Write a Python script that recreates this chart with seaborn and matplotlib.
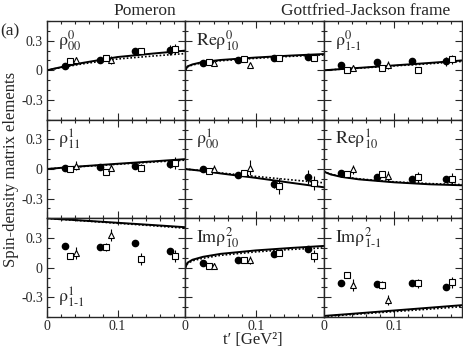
import numpy as np
import matplotlib
matplotlib.use("Agg")
import matplotlib.pyplot as plt
from matplotlib.ticker import MultipleLocator, FuncFormatter
import seaborn as sns

# panel labels, row by row
labels = [r"$\mathrm{\rho^{0}_{00}}$", r"$\mathrm{Re\rho^{0}_{10}}$", r"$\mathrm{\rho^{0}_{1\text{-}1}}$",
          r"$\mathrm{\rho^{1}_{11}}$", r"$\mathrm{\rho^{1}_{00}}$", r"$\mathrm{Re\rho^{1}_{10}}$",
          r"$\mathrm{\rho^{1}_{1\text{-}1}}$", r"$\mathrm{Im\rho^{2}_{10}}$", r"$\mathrm{Im\rho^{2}_{1\text{-}1}}$"]

# t' of the data points
t_circle = [0.025, 0.075, 0.125, 0.174]
t_square = [0.033, 0.083, 0.133, 0.182]
t_triangle = [0.041, 0.091]

# filled circles
circle_val = [[0.04, 0.105, 0.195, 0.21], [0.07, 0.105, 0.13, 0.135], [0.05, 0.08, 0.09, 0.09],
              [0.015, 0.02, 0.03, 0.05], [-0.005, -0.06, -0.15, -0.085], [-0.04, -0.08, -0.1, -0.1],
              [0.215, 0.205, 0.25, 0.165], [0.05, 0.08, 0.135, 0.19], [-0.155, -0.17, -0.155, -0.195]]
circle_err = [[0.02, 0.02, 0.03, 0.05], [0.015, 0.02, 0.02, 0.03], [0.02, 0.02, 0.02, 0.05],
              [0.015, 0.02, 0.03, 0.04], [0.015, 0.025, 0.04, 0.07], [0.015, 0.02, 0.025, 0.03],
              [0.02, 0.03, 0.03, 0.03], [0.015, 0.02, 0.02, 0.03], [0.02, 0.03, 0.03, 0.03]]

# open squares
square_val = [[0.09, 0.12, 0.2, 0.22], [0.08, 0.115, 0.13, 0.12], [0.0, 0.025, 0.0, 0.11],
              [-0.005, -0.035, 0.015, 0.06], [-0.02, -0.04, -0.175, -0.145], [-0.05, -0.05, -0.08, -0.105],
              [0.12, 0.205, 0.085, 0.12], [0.02, 0.075, 0.15, 0.12], [-0.07, -0.18, -0.16, -0.15]]
square_err = [[0.02, 0.02, 0.03, 0.05], [0.015, 0.02, 0.015, 0.02], [0.015, 0.02, 0.02, 0.05],
              [0.02, 0.03, 0.04, 0.06], [0.02, 0.03, 0.08, 0.07], [0.02, 0.03, 0.05, 0.06],
              [0.03, 0.04, 0.06, 0.06], [0.015, 0.02, 0.02, 0.06], [0.02, 0.04, 0.05, 0.06]]

# open triangles
triangle_val = [[0.1, 0.105], [0.07, 0.055], [0.02, 0.055],
                [0.035, 0.015], [0.005, 0.015], [-0.005, -0.07],
                [0.15, 0.33], [0.02, 0.08], [-0.175, -0.325]]
triangle_err = [[0.04, 0.04], [0.015, 0.02], [0.03, 0.04],
                [0.05, 0.04], [0.04, 0.08], [0.05, 0.05],
                [0.06, 0.06], [0.03, 0.04], [0.06, 0.05]]

# model curves
curve_t = [0.0, 0.003, 0.01, 0.025, 0.05, 0.1, 0.15, 0.196]
solid_curve = [[0.0, 0.005, 0.017, 0.04, 0.075, 0.135, 0.17, 0.2],
               [0.0, 0.04, 0.06, 0.085, 0.105, 0.13, 0.15, 0.165],
               [0.0, 0.002, 0.005, 0.013, 0.025, 0.05, 0.075, 0.1],
               [0.0, 0.002, 0.006, 0.015, 0.028, 0.053, 0.077, 0.1],
               [0.0, -0.003, -0.008, -0.02, -0.045, -0.09, -0.14, -0.185],
               [-0.02, -0.035, -0.055, -0.08, -0.105, -0.135, -0.155, -0.165],
               [0.5, 0.499, 0.495, 0.489, 0.478, 0.455, 0.432, 0.41],
               [0.0, 0.05, 0.08, 0.11, 0.14, 0.175, 0.2, 0.22],
               [-0.49, -0.488, -0.484, -0.476, -0.462, -0.434, -0.406, -0.38]]
dotted_curve = [[0.0, 0.005, 0.015, 0.035, 0.065, 0.115, 0.145, 0.17],
                [0.0, 0.035, 0.054, 0.077, 0.097, 0.122, 0.142, 0.156],
                [0.0, 0.002, 0.005, 0.012, 0.022, 0.045, 0.067, 0.09],
                [0.0, 0.002, 0.005, 0.013, 0.025, 0.048, 0.07, 0.09],
                [0.0, -0.003, -0.007, -0.018, -0.04, -0.075, -0.11, -0.14],
                [-0.02, -0.033, -0.052, -0.077, -0.1, -0.13, -0.148, -0.158],
                [0.5, 0.498, 0.494, 0.487, 0.475, 0.45, 0.425, 0.4],
                [0.0, 0.04, 0.07, 0.095, 0.125, 0.16, 0.185, 0.2],
                [-0.495, -0.493, -0.49, -0.483, -0.47, -0.445, -0.42, -0.395]]

sns.set_style("ticks")
plt.rcParams["font.family"] = ["Liberation Serif", "DejaVu Serif"]
plt.rcParams["mathtext.fontset"] = "stix"
plt.rcParams["axes.unicode_minus"] = False

fig, axes = plt.subplots(3, 3, figsize=(4.63, 3.49), dpi=100, sharex=True, sharey=True)
fig.subplots_adjust(left=47 / 463, right=462 / 463, top=1 - 21 / 349, bottom=1 - 317 / 349,
                    wspace=0, hspace=0)

fmt = FuncFormatter(lambda v, p: "0" if abs(v) < 1e-9 else f"{v:g}")

for i, ax in enumerate(axes.flat):
    sns.lineplot(x=curve_t, y=solid_curve[i], ax=ax, color="k", lw=1.4, zorder=2)
    sns.lineplot(x=curve_t, y=dotted_curve[i], ax=ax, color="k", lw=1.2, ls=(0, (1, 1.2)), zorder=2)

    ax.errorbar(t_circle, circle_val[i], yerr=circle_err[i], fmt="o", ms=4.5, color="k",
                mfc="k", elinewidth=0.8, capsize=0, zorder=4)
    ax.errorbar(t_square, square_val[i], yerr=square_err[i], fmt="s", ms=4, color="k",
                mfc="white", mew=0.8, elinewidth=0.8, capsize=0, zorder=4)
    ax.errorbar(t_triangle, triangle_val[i], yerr=triangle_err[i], fmt="^", ms=4.5, color="k",
                mfc="white", mew=0.8, elinewidth=0.8, capsize=0, zorder=4)

    if i == 6:
        ax.text(0.08, 0.08, labels[i], transform=ax.transAxes, fontsize=13, va="bottom")
    else:
        ax.text(0.08, 0.93, labels[i], transform=ax.transAxes, fontsize=13, va="top")

    ax.set_xlim(0, 0.196)
    ax.set_ylim(-0.5, 0.5)
    ax.xaxis.set_major_locator(MultipleLocator(0.1))
    ax.xaxis.set_minor_locator(MultipleLocator(0.02))
    ax.yaxis.set_major_locator(MultipleLocator(0.3))
    ax.yaxis.set_minor_locator(MultipleLocator(0.1))
    ax.xaxis.set_major_formatter(fmt)
    ax.yaxis.set_major_formatter(fmt)
    ax.tick_params(which="both", direction="in", top=True, right=True, labelsize=10, width=0.8)
    ax.tick_params(which="major", length=5, pad=3)
    ax.tick_params(axis="x", which="major", pad=2)
    ax.tick_params(which="minor", length=2.5)
    for s in ax.spines.values():
        s.set_linewidth(1.0)
    ax.set_xlabel("")
    ax.set_ylabel("")

fig.text(145 / 463, 1 - 11 / 349, "Pomeron", ha="center", va="center", fontsize=12.5)
fig.text(366 / 463, 1 - 11 / 349, "Gottfried-Jackson frame", ha="center", va="center", fontsize=12.5)
fig.text(10 / 463, 1 - 31 / 349, "(a)", ha="center", va="center", fontsize=12.5)
fig.text(11 / 463, 1 - 169 / 349, "Spin-density matrix elements", rotation=90,
         ha="center", va="center", fontsize=12)
fig.text(253 / 463, 1 / 349, "t\u2032 [GeV\u00b2]", ha="center", va="bottom", fontsize=12)

fig.savefig("out.png", dpi=100)
